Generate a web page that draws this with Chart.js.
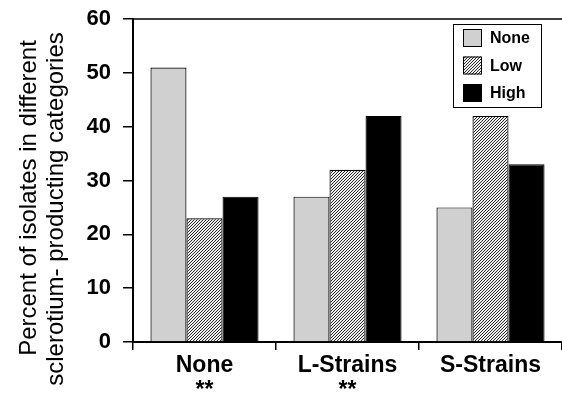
<!DOCTYPE html>
<html lang="en">
<head>
<meta charset="UTF-8">
<title>Sclerotium categories</title>
<script src="https://cdn.jsdelivr.net/npm/chart.js"></script>
<style>
  body { margin: 0; background: #fff; }
  #wrap { width: 562px; height: 400px; }
</style>
</head>
<body>
<div id="wrap"><canvas id="chart" width="562" height="400"></canvas></div>
<script>
// data
const categories = [['None', '**'], ['L-Strains', '**'], ['S-Strains', '']];
const seriesNames = ['None', 'Low', 'High'];
const noneValues = [51, 27, 25];
const lowValues = [23, 32, 42];
const highValues = [27, 42, 33];
const yTitleLines = ['Percent of isolates in different', 'sclerotium- producting categories'];

const FONT = '"Liberation Sans", Arial, Helvetica, sans-serif';

// diagonal hatch for the "Low" bars
function makeHatch() {
    const c = document.createElement('canvas');
    c.width = 3; c.height = 3;
    const g = c.getContext('2d');
    g.fillStyle = '#eeeeee';
    g.fillRect(0, 0, 3, 3);
    g.fillStyle = '#2a2a2a';
    // one pixel per row, stepping up-right
    g.fillRect(0, 2, 1, 1);
    g.fillRect(1, 1, 1, 1);
    g.fillRect(2, 0, 1, 1);
    return g.createPattern(c, 'repeat');
}
const hatch = makeHatch();

// top frame line, y title and boxed legend
const extras = {
    id: 'extras',
    afterDraw(chart) {
        const ctx = chart.ctx;
        const a = chart.chartArea;
        ctx.save();
        ctx.strokeStyle = '#000';
        ctx.lineWidth = 1.5;
        ctx.beginPath();
        ctx.moveTo(a.left, a.top);
        ctx.lineTo(chart.width, a.top);
        ctx.stroke();

        // y axis title
        ctx.fillStyle = '#000';
        ctx.font = '24px ' + FONT;
        ctx.textAlign = 'center';
        ctx.textBaseline = 'middle';
        ctx.save();
        ctx.translate(29, 198);
        ctx.rotate(-Math.PI / 2);
        ctx.fillText(yTitleLines[0], 0, 0);
        ctx.restore();
        ctx.save();
        ctx.translate(56, 209);
        ctx.rotate(-Math.PI / 2);
        ctx.fillText(yTitleLines[1], 0, 0);
        ctx.restore();

        // legend
        const lx = 453, ly = 24, lw = 88, lh = 83;
        ctx.fillStyle = '#fff';
        ctx.fillRect(lx, ly, lw, lh);
        ctx.lineWidth = 1;
        ctx.strokeRect(lx + 0.5, ly + 0.5, lw, lh);
        ctx.font = 'bold 16px ' + FONT;
        ctx.textAlign = 'left';
        chart.data.datasets.forEach((ds, i) => {
            const y = ly + 5 + i * 27.5;
            ctx.fillStyle = ds.backgroundColor;
            ctx.fillRect(lx + 10, y, 19, 18);
            ctx.strokeStyle = '#000';
            ctx.strokeRect(lx + 10.5, y + 0.5, 18, 17);
            ctx.fillStyle = '#000';
            ctx.fillText(ds.label, lx + 37, y + 10);
        });
        ctx.restore();
    }
};

new Chart(document.getElementById('chart'), {
    type: 'bar',
    data: {
        labels: categories,
        datasets: [
            { label: seriesNames[0], data: noneValues, backgroundColor: '#d0d0d0' },
            { label: seriesNames[1], data: lowValues, backgroundColor: hatch },
            { label: seriesNames[2], data: highValues, backgroundColor: '#000' }
        ]
    },
    options: {
        responsive: false,
        animation: false,
        layout: { padding: 0 },
        datasets: {
            bar: {
                borderColor: '#000',
                borderWidth: 1.2,
                categoryPercentage: 0.756,
                barPercentage: 1
            }
        },
        plugins: {
            legend: { display: false },
            tooltip: { enabled: false }
        },
        scales: {
            x: {
                grid: { drawOnChartArea: false, tickLength: 8, color: '#000', lineWidth: 1.5, offset: true },
                border: { color: '#000', width: 2 },
                ticks: {
                    color: '#000',
                    padding: 4,
                    maxRotation: 0,
                    font: { family: FONT, size: 23, weight: 'bold', lineHeight: 1.05 }
                },
                afterFit(scale) { scale.height = 58; }
            },
            y: {
                min: 0,
                max: 60,
                grid: { drawOnChartArea: false, tickLength: 10, color: '#000', lineWidth: 1.5 },
                border: { color: '#000', width: 2 },
                ticks: {
                    stepSize: 10,
                    color: '#000',
                    padding: 12,
                    font: { family: FONT, size: 22, weight: 'bold' }
                },
                afterFit(scale) {
                    scale.width = 133;
                    scale.paddingTop = 19;
                    scale.paddingBottom = 0;
                }
            }
        }
    },
    plugins: [extras]
});
</script>
</body>
</html>
